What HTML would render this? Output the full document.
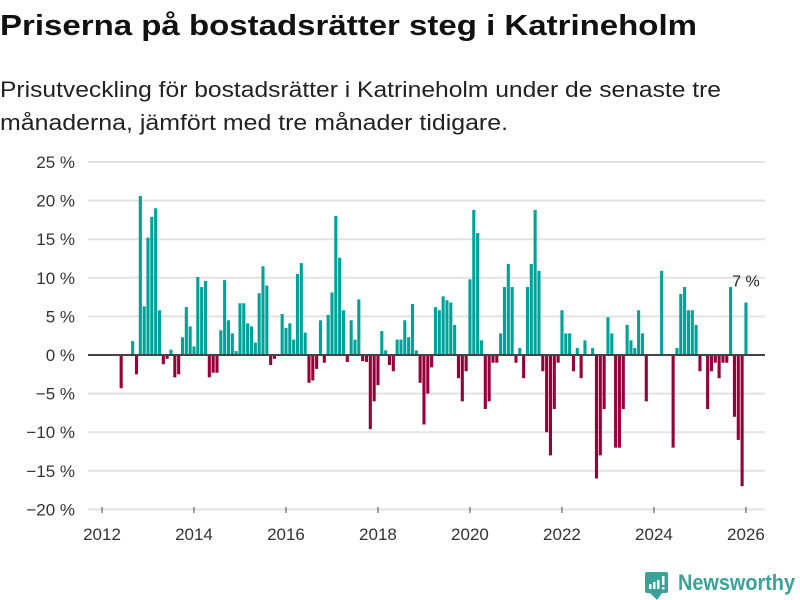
<!DOCTYPE html>
<html><head><meta charset="utf-8"><style>
body{margin:0;background:#fff;width:800px;height:600px;overflow:hidden;font-family:"Liberation Sans",sans-serif;}
svg{display:block}
</style></head><body>
<svg id="chart" width="800" height="600" xmlns="http://www.w3.org/2000/svg">
<text x="0" y="35" font-size="29" font-weight="bold" fill="#111" textLength="697" lengthAdjust="spacingAndGlyphs">Priserna på bostadsrätter steg i Katrineholm</text>
<text x="0" y="97" font-size="22" fill="#222" textLength="721" lengthAdjust="spacingAndGlyphs">Prisutveckling för bostadsrätter i Katrineholm under de senaste tre</text>
<text x="0" y="130" font-size="22" fill="#222" textLength="508" lengthAdjust="spacingAndGlyphs">månaderna, jämfört med tre månader tidigare.</text>
<g id="grid"></g><g id="bars"></g><g id="axes"></g>
<g>
<rect x="645" y="572" width="23" height="21" rx="2" fill="#3aa399"/>
<polygon points="650,593 657,600 662,593" fill="#3aa399"/>
<rect x="649" y="584" width="2.5" height="5" fill="#fff"/><rect x="653" y="582" width="2.5" height="7" fill="#fff"/><rect x="657" y="580" width="2.5" height="9" fill="#fff"/><rect x="662" y="576" width="2.5" height="9" fill="#fff"/><rect x="662" y="587" width="2.5" height="2.5" fill="#fff"/>
<text x="678" y="590" font-size="22" font-weight="bold" fill="#3aa399" textLength="117" lengthAdjust="spacingAndGlyphs">Newsworthy</text>
</g>
</svg>
<script>
// monthly values starting Jan 2012 (null = no data)
const startYear = 2012;
const values = [
null,null,null,null,null,-4.3,null,null,1.8,-2.5,20.6,6.3,
15.2,17.9,19.0,5.8,-1.2,-0.5,0.7,-2.9,-2.5,2.3,6.2,3.7,
1.1,10.1,8.8,9.6,-2.9,-2.3,-2.3,3.2,9.7,4.5,2.8,0.5,
6.7,6.7,4.1,3.7,1.6,8.0,11.5,9.0,-1.3,-0.5,null,5.3,
3.5,4.1,2.0,10.5,11.9,2.9,-3.6,-3.3,-1.8,4.5,-1.0,5.2,
8.1,18.0,12.6,5.8,-0.9,4.5,2.0,7.2,-0.8,-0.9,-9.6,-6.0,
-3.9,3.1,0.6,-1.3,-2.1,2.0,2.0,4.5,2.3,6.6,0.6,-3.6,
-9.0,-5.0,-1.6,6.2,5.8,7.6,7.1,6.8,3.9,-3.0,-6.0,-2.1,
9.8,18.8,15.8,1.9,-7.0,-6.0,-1.0,-1.0,2.8,8.8,11.8,8.8,
-1.0,0.9,-3.0,8.8,11.8,18.8,10.9,-2.1,-10.0,-13.0,-7.0,-1.0,
5.8,2.8,2.8,-2.1,0.9,-3.0,1.9,null,0.9,-16.0,-13.0,-7.0,
4.9,2.8,-12.0,-12.0,-7.0,3.9,1.9,0.9,5.8,2.8,-6.0,null,
null,null,10.9,null,null,-12.0,0.9,7.9,8.8,5.8,5.8,3.9,
-2.1,null,-7.0,-2.1,-1.0,-3.0,-1.0,-1.0,8.8,-8.0,-11.0,-17.0,
6.8
];
const yTicks = [25,20,15,10,5,0,-5,-10,-15,-20];
const xTickYears = [2012,2014,2016,2018,2020,2022,2024,2026];
const lastLabel = "7 %";

const NS="http://www.w3.org/2000/svg";
function y(v){return 355 + (0 - v) * 7.72;}
function x(monthIndex){return 102 + monthIndex * 3.833;}
function mk(tag,attrs,parent){const e=document.createElementNS(NS,tag);for(const k in attrs)e.setAttribute(k,attrs[k]);parent.appendChild(e);return e;}
const grid=document.getElementById('grid'),bars=document.getElementById('bars'),axes=document.getElementById('axes');
yTicks.forEach(t=>{
  if(t!==0){const l=mk('line',{x1:88,x2:765,y1:y(t),y2:y(t),stroke:'#e2e2e2','stroke-width':2},grid);
  
  }
  const tx=mk('text',{x:75,y:y(t)+6,'font-size':17,fill:'#333','text-anchor':'end'},axes);
  tx.textContent=(t<0?'\u2212'+(-t):t)+' %';
  
  
});
values.forEach((v,i)=>{
  if(v===null)return;
  const cx=x(i);
  const r=mk('rect',{x:cx-1.55,width:3.1,y:Math.min(y(v),y(0)),height:Math.abs(y(v)-y(0)),fill:v>=0?'#00a398':'#990039'},bars);
  
  
});
const z=mk('line',{x1:88,x2:765,y1:y(0),y2:y(0),stroke:'#444','stroke-width':2},axes);


xTickYears.forEach(yr=>{
  const px=x((yr-startYear)*12);
  const tk=mk('line',{x1:px,x2:px,y1:507,y2:513,stroke:'#444','stroke-width':1},axes);
  
  
  const t=mk('text',{x:px,y:540,'font-size':17,fill:'#333','text-anchor':'middle'},axes);
  t.textContent=yr;
  
  
});
const li=values.length-1;
const lab=mk('text',{x:x(li),y:y(values[li])-16,'font-size':16,fill:'#222','text-anchor':'middle'},axes);
lab.textContent=lastLabel;


</script>
</body></html>
